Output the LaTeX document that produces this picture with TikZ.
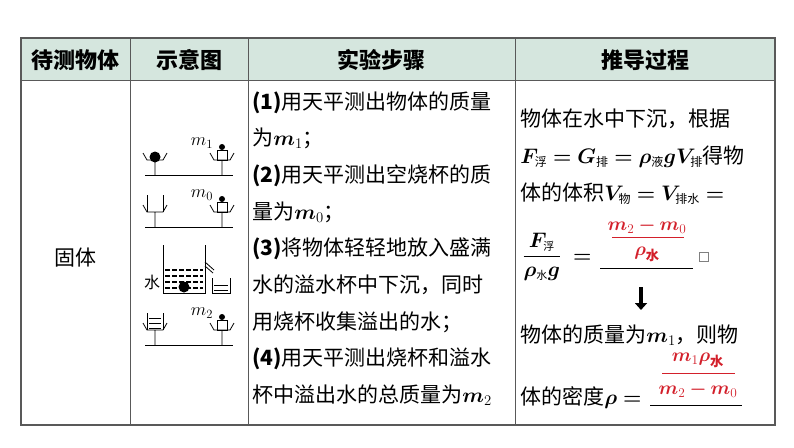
\RequirePackage{fix-cm}
\documentclass[tikz,border=0pt]{standalone}
\usepackage{amsmath}
\usepackage{bm}
\usepackage{fontspec}
\setmainfont{Noto Sans CJK SC}
\usetikzlibrary{arrows.meta}
\definecolor{headbg}{HTML}{D5E6DE}
\definecolor{ansred}{HTML}{D3202B}
\tikzset{
    cell/.style = {anchor=base west, inner sep=0pt, font=\fontsize{21}{24}\selectfont},
    head/.style = {inner sep=0pt, font=\fontsize{22}{24}\selectfont\bfseries},
    ans/.style = {inner sep=0pt, text=ansred, font=\fontsize{19}{22}\selectfont},
    rule/.style = {line width=0.9pt}
}
\newcommand{\mm}[1]{\bm{m}_{#1}}
\newcommand{\pan}[1]{%
    \draw (#1,0) -- (#1,-15) (#1-12,-22) -- (#1-8,-15) -- (#1+8,-15) -- (#1+12,-22);
}
\begin{document}
\begin{tikzpicture}[x=1pt, y=-1pt, line width=0.8pt]
\useasboundingbox (0,0) rectangle (794,447);
% table
\fill[headbg] (21,38) rectangle (775,80);
\draw[gray!70!black, line width=1.2pt] (21,38) rectangle (775,425);
\draw[gray!70!black] (21,80) -- (775,80);
\foreach \x in {130,248,515} \draw[gray!70!black] (\x,38) -- (\x,425);
\node[head] (h1) at (75,60) {待测物体};
\node[head] (h2) at (189,60) {示意图};
\node[head] (h3) at (381,60) {实验步骤};
\node[head] (h4) at (645,60) {推导过程};
\node[font=\fontsize{21}{24}\selectfont] (obj) at (75,258) {固体};
% steps
\foreach \t [count=\i] in {{\textbf{(1)}用天平测出物体的质量},{为$\mm{1}$；},{\textbf{(2)}用天平测出空烧杯的质},{量为$\mm{0}$；},{\textbf{(3)}将物体轻轻地放入盛满},{水的溢水杯中下沉，同时},{用烧杯收集溢出的水；},{\textbf{(4)}用天平测出烧杯和溢水},{杯中溢出水的总质量为$\mm{2}$}}
    \node[cell] (s\i) at (252,{109+36.7*(\i-1)}) {\t};
% balances
\foreach \y/\m in {175/1,227/0,345/2}{
  \begin{scope}[shift={(0,\y)}]
    \draw (145,0) -- (233,0);
    \pan{155} \pan{222}
    \draw (217,-25) rectangle (227,-15);
    \fill (222,-28) circle (3);
    \node[font=\fontsize{18}{18}\selectfont] (w\m) at (202,-32) {$m_{\m}$};
  \end{scope}
}
\fill (155,157) circle (5.5);
\draw (147,195) -- (147,212) (163,195) -- (163,212);
\draw (147,313) -- (147,330) (163,313) -- (163,330);
\foreach \y in {318,323,328} \draw[line width=0.6pt] (149,\y) -- (161,\y);
% overflow cup
\draw (163,245) -- (163,293) -- (205,293) -- (205,245);
\draw (205,262) -- (214,270) (205,266) -- (213,273);
\fill[white] (164,268) rectangle (204,292);
\foreach \y in {270,276,282,288} \draw[line width=1.5pt, dash pattern=on 5pt off 2pt] (165,\y) -- (203,\y);
\fill (184,287) circle (5.5);
\draw (212,278) -- (212,293) -- (230,293) -- (230,278);
\foreach \y in {285,290} \draw[line width=0.6pt] (214,\y) -- (228,\y);
\node[font=\fontsize{16}{16}\selectfont] (water) at (152,282) {水};
% derivation
\node[cell] (d1) at (520,126) {物体在水中下沉，根据};
\node[cell] (d2) at (520,163) {$\bm{F}_{\text{\fontsize{12}{12}\selectfont 浮}}\bm{=}\bm{G}_{\text{\fontsize{12}{12}\selectfont 排}}\bm{=}\bm{\rho}_{\text{\fontsize{12}{12}\selectfont 液}}\bm{g}\bm{V}_{\text{\fontsize{12}{12}\selectfont 排}}$得物};
\node[cell] (d3) at (520,200) {体的体积$\bm{V}_{\text{\fontsize{12}{12}\selectfont 物}}\bm{=}\bm{V}_{\text{\fontsize{12}{12}\selectfont 排水}}\bm{=}$};
\node[cell] (d4) at (522,262) {$\dfrac{\bm{F}_{\text{\fontsize{11}{11}\selectfont 浮}}}{\bm{\rho}_{\text{\fontsize{11}{11}\selectfont 水}}\bm{g}}\;\bm{=}$};
\draw (600,268) -- (693,268);
\node[ans] (a1) at (647,226) {$\bm{m}_2\bm{-}\bm{m}_0$};
\draw[ansred] (612,237) -- (684,237);
\node[ans] (a2) at (647,254) {$\bm{\rho}_{\textbf{水}}$};
\node[draw=gray, minimum size=9pt, inner sep=0pt] (box) at (704,257) {};
\coordinate (t) at (641,287);
\coordinate (b) at (641,310);
\draw[-{Triangle[length=7pt,width=12pt]}, line width=4pt] (t) -- (b);
\node[cell] (d5) at (520,342) {物体的质量为$\mm{1}$，则物};
\node[cell] (d6) at (520,404) {体的密度$\bm{\rho}\bm{=}$};
\draw (650,405) -- (742,405);
\node[ans] (a3) at (698,360) {$\bm{m}_1\bm{\rho}_{\textbf{水}}$};
\draw[ansred] (662,373) -- (735,373);
\node[ans] (a4) at (698,390) {$\bm{m}_2\bm{-}\bm{m}_0$};
\end{tikzpicture}
\end{document}
